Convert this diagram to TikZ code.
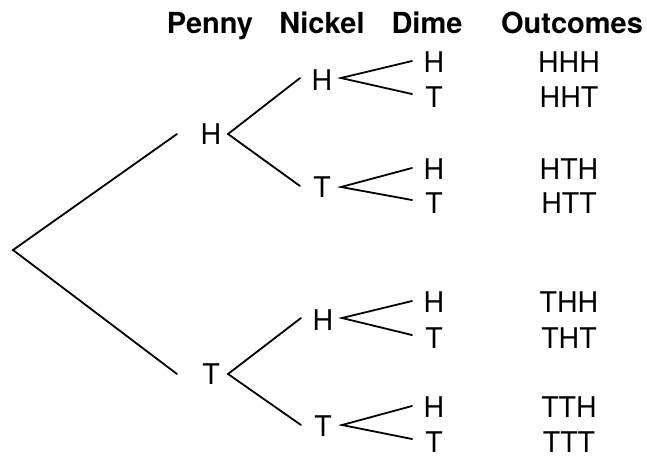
\documentclass[tikz,border=0pt]{standalone}
\usepackage{fontspec}
\setmainfont{TeX Gyre Heros}
\begin{document}
\begin{tikzpicture}[x=1pt,y=-1pt,
  hdr/.style={anchor=base,inner sep=0pt,font=\fontsize{29}{31}\selectfont\bfseries},
  lbl/.style={inner sep=0pt,font=\fontsize{28.5}{30}\selectfont},
  br/.style={line width=1.8pt,line cap=round}]
\useasboundingbox (0,0) rectangle (647,456);
% headers
\node[hdr] (hP) at (210,33) {Penny};
\node[hdr] (hN) at (322,33) {Nickel};
\node[hdr] (hD) at (427,33) {Dime};
\node[hdr] (hO) at (572,33) {Outcomes};
% root
\coordinate (root) at (13,250);
% penny
\node[lbl] (pH) at (211,134) {H};
\node[lbl] (pT) at (211,374) {T};
% nickel
\node[lbl] (nHH) at (322,80) {H};
\node[lbl] (nHT) at (322,187) {T};
\node[lbl] (nTH) at (323,320) {H};
\node[lbl] (nTT) at (323,426) {T};
% dime
\node[lbl] (d1) at (434,62) {H};
\node[lbl] (d2) at (434,97) {T};
\node[lbl] (d3) at (434,169) {H};
\node[lbl] (d4) at (434,203) {T};
\node[lbl] (d5) at (434,302) {H};
\node[lbl] (d6) at (434,338) {T};
\node[lbl] (d7) at (434,407) {H};
\node[lbl] (d8) at (434,442) {T};
% outcomes
\node[lbl] (o1) at (569,62) {HHH};
\node[lbl] (o2) at (569,97) {HHT};
\node[lbl] (o3) at (569,169) {HTH};
\node[lbl] (o4) at (569,203) {HTT};
\node[lbl] (o5) at (569,302) {THH};
\node[lbl] (o6) at (569,338) {THT};
\node[lbl] (o7) at (569,407) {TTH};
\node[lbl] (o8) at (569,442) {TTT};
% branches
\draw[br] ([xshift=-34pt]pH.center) -- (root) -- ([xshift=-34pt]pT.center);
\draw[br] ([xshift=-22pt,yshift=2pt]nHH.center) -- ([xshift=17pt]pH.center) -- ([xshift=-22pt,yshift=1pt]nHT.center);
\draw[br] ([xshift=-22pt,yshift=2pt]nTH.center) -- ([xshift=17pt]pT.center) -- ([xshift=-22pt,yshift=1pt]nTT.center);
\draw[br] ([xshift=-22pt,yshift=1pt]d1.center) -- ([xshift=19pt,yshift=2pt]nHH.center) -- ([xshift=-22pt,yshift=3pt]d2.center);
\draw[br] ([xshift=-22pt,yshift=1pt]d3.center) -- ([xshift=19pt]nHT.center) -- ([xshift=-22pt,yshift=3pt]d4.center);
\draw[br] ([xshift=-22pt,yshift=1pt]d5.center) -- ([xshift=19pt,yshift=2pt]nTH.center) -- ([xshift=-22pt,yshift=3pt]d6.center);
\draw[br] ([xshift=-22pt,yshift=1pt]d7.center) -- ([xshift=19pt,yshift=1pt]nTT.center) -- ([xshift=-22pt,yshift=3pt]d8.center);
\end{tikzpicture}
\end{document}
